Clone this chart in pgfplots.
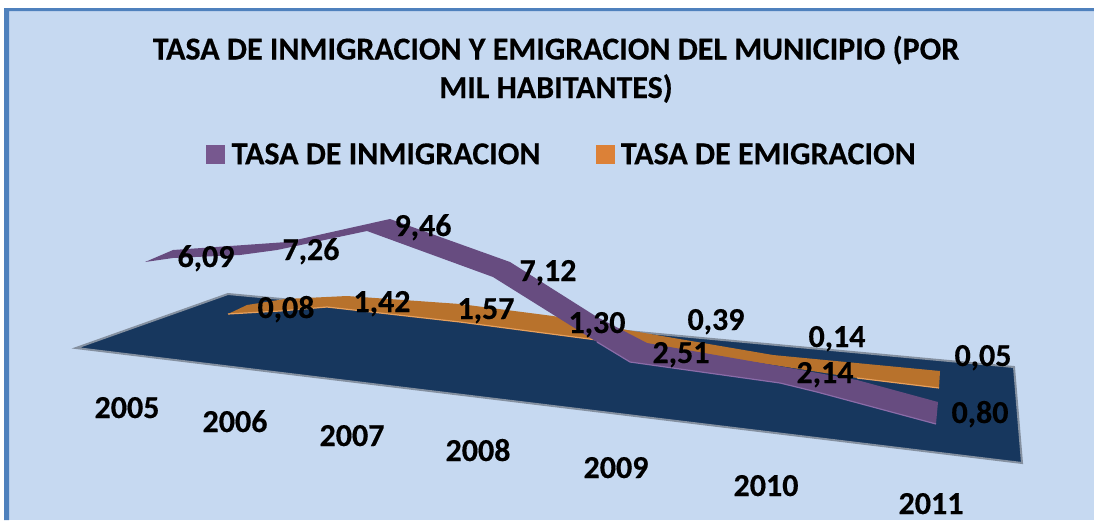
\documentclass[border=0pt]{standalone}
\usepackage{fontspec}
\setmainfont{Carlito}[BoldFeatures={FakeBold=0.3}]
\usepackage{pgfplots}
\pgfplotsset{compat=1.18}
\definecolor{bgc}{HTML}{C6D9F1}
\definecolor{bord}{HTML}{4F81BD}
\definecolor{floorc}{HTML}{17375E}
\definecolor{flooredge}{HTML}{8490A0}
\definecolor{purp}{HTML}{674C80}
\definecolor{purpl}{HTML}{8A6CA8}
\definecolor{purpleg}{HTML}{77588F}
\definecolor{oran}{HTML}{B8722C}
\definecolor{oranl}{HTML}{E8A05C}
\definecolor{orleg}{HTML}{DC8137}
\tikzset{lab/.style={font=\fontsize{32}{32}\selectfont\bfseries,anchor=base,text=black,inner sep=0pt}}
\begin{document}
\begin{tikzpicture}[x=1pt,y=1pt]
\begin{axis}[
  scale only axis, width=1094pt, height=520pt,
  xmin=0, xmax=1094, ymin=0, ymax=520, y dir=reverse,
  hide axis, clip=true,
  legend style={at={(axis cs:562,154.5)},anchor=center,draw=none,fill=none,
    legend columns=2,font=\fontsize{32}{32}\selectfont\bfseries,
    /tikz/every odd column/.append style={column sep=5pt},
    /tikz/every even column/.append style={column sep=53pt},
    inner sep=0pt,cells={anchor=west}},
]
% canvas and chart area
\addplot[draw=none,fill=white,forget plot] coordinates {(0,0)(1094,0)(1094,520)(0,520)} --cycle;
\addplot[draw=none,fill=bgc,forget plot] coordinates {(9,11)(1094,11)(1094,520)(9,520)} --cycle;
\addplot[draw=none,fill=bord,forget plot] coordinates {(4,8)(1094,8)(1094,11)(9,11)(9,520)(4,520)} --cycle;
% floor
\addplot[draw=flooredge,line width=2pt,fill=floorc,forget plot] coordinates {(76,348)(228,294)(1014,367)(1022,463)} --cycle;
% TASA DE EMIGRACION ribbon
\addplot[draw=none,fill=oran,forget plot] coordinates {
 (228,314)(247,305)(285,299)(347,296)(460,304)(553,316)(627,330)(773,355)(940,371)
 (939,388)(857,378)(780,366)(640,345)(597,340)(460,322)(327,307)(280,311)} --cycle;
\addplot[draw=oranl,line width=1.2pt,forget plot] coordinates {(228,314)(280,311)(327,307)(460,322)(597,340)};
\addplot[draw=oranl,line width=1.2pt,forget plot] coordinates {(857,378)(939,388)};
% TASA DE INMIGRACION ribbon
\addplot[draw=none,fill=purp,forget plot] coordinates {
 (145,262)(173,250)(287,242)(390,219)(510,262)(597,317)(647,343)(790,368)(857,380)(938,402)
 (936,424)(817,392)(780,383)(630,362)(597,342)(493,277)(367,231)(277,250)(240,255)(173,258)} --cycle;
\addplot[draw=purpl,line width=1.2pt,forget plot] coordinates {(597,342)(630,362)(780,383)(817,392)(936,424)};
% legend
\addlegendimage{legend image code/.code={\fill[purpleg] (0pt,-9pt) rectangle (18pt,9pt);}}
\addlegendentry{TASA DE INMIGRACION}
\addlegendimage{legend image code/.code={\fill[orleg] (0pt,-9pt) rectangle (18pt,9pt);}}
\addlegendentry{TASA DE EMIGRACION}
% title
\node[lab] at (axis cs:556,59.5) {TASA DE INMIGRACION Y EMIGRACION DEL MUNICIPIO (POR};
\node[lab] at (axis cs:556,98) {MIL HABITANTES)};
% data labels
\node[lab] at (axis cs:206,267) {6,09};
\node[lab] at (axis cs:311,260) {7,26};
\node[lab] at (axis cs:423,236) {9,46};
\node[lab] at (axis cs:548,281) {7,12};
\node[lab] at (axis cs:597,333) {1,30};
\node[lab] at (axis cs:681,363) {2,51};
\node[lab] at (axis cs:825,383) {2,14};
\node[lab] at (axis cs:980,423) {0,80};
\node[lab] at (axis cs:286,318) {0,08};
\node[lab] at (axis cs:382,312) {1,42};
\node[lab] at (axis cs:486,319) {1,57};
\node[lab] at (axis cs:716,330) {0,39};
\node[lab] at (axis cs:837,347) {0,14};
\node[lab] at (axis cs:983,366) {0,05};
% category labels
\node[lab] at (axis cs:127,418) {2005};
\node[lab] at (axis cs:235,432) {2006};
\node[lab] at (axis cs:352,446) {2007};
\node[lab] at (axis cs:478,461) {2008};
\node[lab] at (axis cs:616,478) {2009};
\node[lab] at (axis cs:766,496) {2010};
\node[lab] at (axis cs:931,514) {2011};
\end{axis}
\end{tikzpicture}
\end{document}
